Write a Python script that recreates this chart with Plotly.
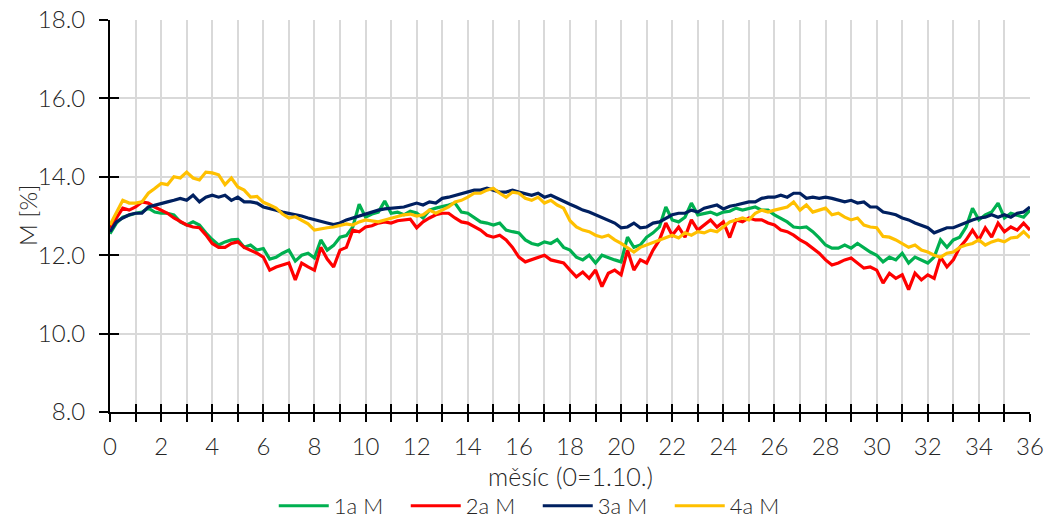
import plotly.graph_objects as go

# month axis, sampled every quarter month (0 = 1 October)
months = [i * 0.25 for i in range(145)]

m_1a = [
    12.55, 12.82, 12.97, 13.03,  13.07, 13.10, 13.20, 13.10,  13.07, 13.07, 13.03, 12.85,
    12.77, 12.85, 12.77, 12.57,  12.40, 12.26, 12.34, 12.39,  12.40, 12.20, 12.26, 12.13,
    12.17, 11.90, 11.95, 12.05,  12.13, 11.85, 12.00, 12.05,  11.93, 12.39, 12.13, 12.25,
    12.46, 12.50, 12.72, 13.30,  12.97, 13.05, 13.10, 13.38,  13.07, 13.10, 13.03, 13.12,
    13.08, 12.95, 13.15, 13.20,  13.23, 13.28, 13.33, 13.10,  13.07, 12.95, 12.85, 12.82,
    12.77, 12.82, 12.64, 12.60,  12.57, 12.39, 12.30, 12.26,  12.34, 12.30, 12.40, 12.20,
    12.13, 11.95, 11.88, 12.00,  11.80, 12.00, 11.93, 11.88,  11.83, 12.46, 12.20, 12.26,
    12.46, 12.57, 12.72, 13.23,  12.90, 12.85, 12.97, 13.33,  13.03, 13.07, 13.10, 13.03,
    13.10, 13.12, 13.20, 13.15,  13.20, 13.23, 13.15, 13.15,  13.03, 12.95, 12.85, 12.72,
    12.70, 12.72, 12.60, 12.44,  12.26, 12.18, 12.18, 12.26,  12.18, 12.30, 12.18, 12.08,
    12.00, 11.83, 11.95, 11.88,  12.05, 11.80, 11.95, 11.88,  11.80, 11.95, 12.39, 12.20,
    12.39, 12.46, 12.72, 13.20,  12.90, 13.03, 13.10, 13.33,  12.95, 13.07, 13.03, 12.97,
    13.15,
]

m_2a = [
    12.70, 12.95, 13.20, 13.15,  13.23, 13.36, 13.33, 13.23,  13.15, 13.07, 12.95, 12.85,
    12.77, 12.72, 12.70, 12.52,  12.30, 12.20, 12.20, 12.30,  12.34, 12.20, 12.13, 12.05,
    11.95, 11.62, 11.70, 11.75,  11.80, 11.37, 11.80, 11.70,  11.62, 12.20, 11.90, 11.70,
    12.13, 12.20, 12.64, 12.60,  12.72, 12.75, 12.82, 12.85,  12.82, 12.88, 12.90, 12.92,
    12.70, 12.85, 12.95, 13.03,  13.07, 13.07, 12.95, 12.85,  12.82, 12.72, 12.64, 12.51,
    12.46, 12.51, 12.39, 12.20,  11.95, 11.83, 11.88, 11.93,  12.00, 11.88, 11.83, 11.80,
    11.62, 11.45, 11.57, 11.41,  11.62, 11.20, 11.54, 11.62,  11.50, 12.13, 11.62, 11.88,
    11.80, 12.13, 12.39, 12.82,  12.51, 12.72, 12.46, 12.90,  12.64, 12.77, 12.90, 12.72,
    12.85, 12.45, 12.90, 12.85,  12.95, 12.90, 12.90, 12.82,  12.77, 12.64, 12.60, 12.51,
    12.39, 12.30, 12.18, 12.05,  11.88, 11.75, 11.80, 11.88,  11.93, 11.80, 11.67, 11.70,
    11.62, 11.29, 11.54, 11.41,  11.50, 11.12, 11.54, 11.37,  11.50, 11.41, 11.95, 11.70,
    11.88, 12.20, 12.39, 12.64,  12.39, 12.70, 12.46, 12.82,  12.60, 12.72, 12.64, 12.82,
    12.64,
]

m_3a = [
    12.60, 12.85, 12.95, 13.03,  13.07, 13.07, 13.23, 13.28,  13.33, 13.36, 13.40, 13.45,
    13.40, 13.53, 13.36, 13.48,  13.53, 13.48, 13.53, 13.40,  13.48, 13.36, 13.36, 13.33,
    13.23, 13.20, 13.15, 13.10,  13.07, 13.03, 13.00, 12.95,  12.90, 12.85, 12.82, 12.78,
    12.82, 12.90, 12.95, 13.00,  13.07, 13.10, 13.15, 13.18,  13.20, 13.22, 13.23, 13.28,
    13.33, 13.28, 13.36, 13.33,  13.45, 13.48, 13.53, 13.58,  13.61, 13.66, 13.66, 13.71,
    13.66, 13.61, 13.61, 13.66,  13.61, 13.58, 13.53, 13.58,  13.48, 13.53, 13.45, 13.36,
    13.30, 13.23, 13.15, 13.10,  13.03, 12.97, 12.90, 12.82,  12.70, 12.72, 12.82, 12.70,
    12.72, 12.82, 12.85, 12.95,  13.03, 13.07, 13.07, 13.15,  13.10, 13.20, 13.23, 13.28,
    13.18, 13.25, 13.28, 13.33,  13.36, 13.36, 13.45, 13.48,  13.48, 13.53, 13.48, 13.58,
    13.58, 13.45, 13.48, 13.45,  13.48, 13.45, 13.40, 13.36,  13.40, 13.33, 13.36, 13.23,
    13.23, 13.10, 13.07, 13.03,  12.95, 12.90, 12.82, 12.77,  12.70, 12.57, 12.64, 12.70,
    12.70, 12.77, 12.85, 12.90,  12.95, 12.97, 13.03, 12.97,  13.03, 12.97, 13.07, 13.10,
    13.23,
]

m_4a = [
    12.77, 13.07, 13.40, 13.33,  13.33, 13.36, 13.58, 13.70,  13.83, 13.80, 14.00, 13.97,
    14.12, 13.97, 13.92, 14.12,  14.10, 14.05, 13.80, 13.97,  13.74, 13.66, 13.48, 13.50,
    13.35, 13.28, 13.20, 13.05,  12.95, 12.98, 12.90, 12.80,  12.64, 12.68, 12.70, 12.72,
    12.77, 12.80, 12.77, 12.85,  12.90, 12.88, 12.85, 12.90,  12.95, 13.00, 13.03, 13.05,
    13.00, 13.03, 13.15, 13.07,  13.15, 13.23, 13.36, 13.40,  13.48, 13.58, 13.58, 13.66,
    13.71, 13.58, 13.48, 13.61,  13.58, 13.45, 13.40, 13.48,  13.33, 13.40, 13.28, 13.20,
    12.88, 12.72, 12.64, 12.60,  12.51, 12.46, 12.51, 12.39,  12.30, 12.20, 12.08, 12.20,
    12.26, 12.34, 12.39, 12.46,  12.51, 12.44, 12.57, 12.51,  12.60, 12.57, 12.64, 12.60,
    12.72, 12.85, 12.90, 12.95,  12.90, 13.07, 13.15, 13.10,  13.15, 13.20, 13.23, 13.36,
    13.15, 13.28, 13.10, 13.15,  13.20, 13.03, 13.07, 12.97,  12.90, 12.95, 12.77, 12.72,
    12.70, 12.48, 12.46, 12.39,  12.30, 12.20, 12.26, 12.13,  12.08, 12.00, 11.95, 12.05,
    12.08, 12.20, 12.26, 12.30,  12.39, 12.26, 12.34, 12.39,  12.34, 12.44, 12.46, 12.60,
    12.44,
]

series_names = ["1a M", "2a M", "3a M", "4a M"]
series_colors = ["#00B050", "#FF0000", "#002060", "#FFC000"]
series_values = [m_1a, m_2a, m_3a, m_4a]

x_ticks = list(range(0, 37))
x_ticktext = [str(v) if v % 2 == 0 else "" for v in x_ticks]
y_ticks = [8, 10, 12, 14, 16, 18]
y_ticktext = [f"{v:.1f}" for v in y_ticks]

x_title = "měsíc (0=1.10.)"
y_title = "M [%]"

FONT = "Lato, 'Open Sans', sans-serif"
TXT = "#262626"

fig = go.Figure()
for name, col, vals in zip(series_names, series_colors, series_values):
    fig.add_trace(go.Scatter(
        x=months, y=vals, name=name, mode="lines",
        line=dict(color=col, width=3.2),
    ))

# empty trace that carries the overlay axes used for the inner half of the tick marks
fig.add_trace(go.Scatter(x=[], y=[], xaxis="x2", yaxis="y2",
                         showlegend=False, hoverinfo="skip"))

fig.update_layout(
    width=1046, height=520,
    margin=dict(l=110, r=16, t=20, b=108),
    paper_bgcolor="white", plot_bgcolor="white",
    font=dict(family=FONT, size=24, color=TXT, weight=300),
    showlegend=True,
    legend=dict(orientation="h", x=0.178, xanchor="left",
                yref="container", y=0.027, yanchor="middle",
                font=dict(size=22, color=TXT, weight=300), itemwidth=50,
                entrywidth=67, entrywidthmode="pixels", tracegroupgap=0),
    xaxis=dict(
        range=[0, 36], tickvals=x_ticks, ticktext=x_ticktext,
        showgrid=True, gridcolor="#D9D9D9", gridwidth=2,
        showline=True, linecolor="#000000", linewidth=2,
        ticks="outside", ticklen=8, tickwidth=1.5, tickcolor="#000000",
        tickfont=dict(size=24, color=TXT, weight=300), ticklabelstandoff=4,
        zeroline=False, automargin=False,
    ),
    yaxis=dict(
        range=[8, 18], tickvals=y_ticks, ticktext=y_ticktext,
        showgrid=True, gridcolor="#D9D9D9", gridwidth=2,
        showline=True, linecolor="#000000", linewidth=2,
        ticks="outside", ticklen=9, tickwidth=1.5, tickcolor="#000000",
        tickfont=dict(size=24, color=TXT, weight=300), ticklabelstandoff=9,
        zeroline=False, automargin=False,
    ),
    xaxis2=dict(
        range=[0, 36], tickvals=x_ticks, overlaying="x", anchor="y",
        side="bottom", showticklabels=False, showgrid=False, showline=False,
        ticks="inside", ticklen=8, tickwidth=1.5, tickcolor="#000000", zeroline=False,
    ),
    yaxis2=dict(
        range=[8, 18], tickvals=y_ticks, overlaying="y", anchor="x",
        side="left", showticklabels=False, showgrid=False, showline=False,
        ticks="inside", ticklen=9, tickwidth=1.5, tickcolor="#000000", zeroline=False,
    ),
    annotations=[
        # axis titles placed below / left of the plotting area
        dict(text=x_title, xref="paper", yref="paper", x=0.5, y=0,
             xanchor="center", yanchor="middle", yshift=-64, showarrow=False,
             font=dict(size=25, color=TXT, weight=300)),
        dict(text=y_title, xref="paper", yref="paper", x=0, y=0.5,
             xanchor="center", yanchor="middle", xshift=-83, textangle=-90,
             showarrow=False, font=dict(size=24, color=TXT, weight=300)),
    ],
)

fig.write_html("out.html")
